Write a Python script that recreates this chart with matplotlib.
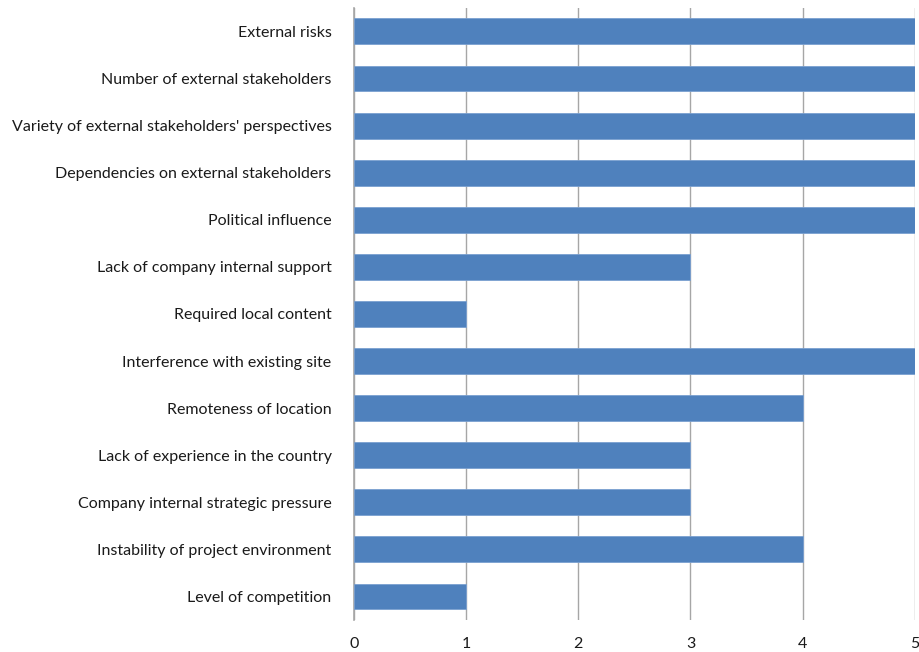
import matplotlib.pyplot as plt

# data (top to bottom as shown)
factors = [
    "External risks",
    "Number of external stakeholders",
    "Variety of external stakeholders' perspectives",
    "Dependencies on external stakeholders",
    "Political influence",
    "Lack of company internal support",
    "Required local content",
    "Interference with existing site",
    "Remoteness of location",
    "Lack of experience in the country",
    "Company internal strategic pressure",
    "Instability of project environment",
    "Level of competition",
]
scores = [5, 5, 5, 5, 5, 3, 1, 5, 4, 3, 3, 4, 1]

plt.rcParams['font.family'] = ['Lato', 'DejaVu Sans']

fig = plt.figure(figsize=(9.19, 6.52), dpi=100)
ax = fig.add_axes([0.385, 0.049, 0.6106, 0.939])

ypos = list(range(len(factors)))
ax.barh(ypos, scores, height=0.55, color='#4F81BD', edgecolor='#7aa0d0', linewidth=0.6, zorder=3)

ax.set_xlim(0, 5)
ax.set_ylim(len(factors) - 0.5, -0.5)
ax.set_yticks(ypos)
ax.set_yticklabels(factors, fontsize=11.5, color='#1a1a1a')
ax.set_xticks(range(6))
ax.tick_params(axis='x', length=0, pad=12, labelsize=11.5, labelcolor='#1a1a1a')
ax.tick_params(axis='y', length=0, pad=16)

ax.grid(axis='x', color='#a6a6a6', linewidth=1.0, zorder=0)
for s in ['top', 'right', 'bottom']:
    ax.spines[s].set_visible(False)
ax.spines['left'].set_color('#a6a6a6')
ax.spines['left'].set_linewidth(1.2)

fig.savefig('out.png', dpi=100)
